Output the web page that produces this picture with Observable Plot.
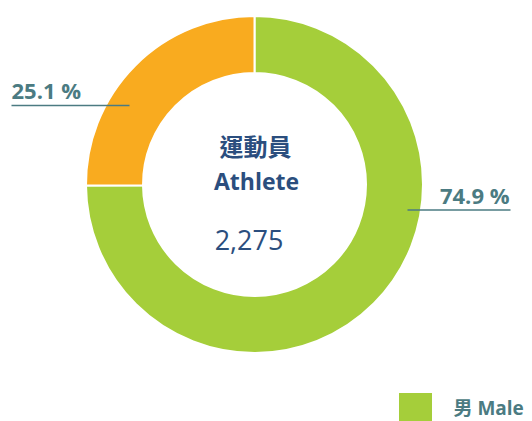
<!DOCTYPE html>
<html><head><meta charset="utf-8">
<script src="https://cdn.jsdelivr.net/npm/d3@7"></script>
<script src="https://cdn.jsdelivr.net/npm/@observablehq/plot@0.6"></script>
<style>
html,body{margin:0;padding:0;background:#fff;overflow:hidden;}
</style>
</head><body><div id="chart"></div>
<script>
// ---- data ----
const categories = ["男 Male", "女 Female"];
const percents = [74.9, 25.1];
const colors = ["#a5ce3a", "#f9ab1f"];
const centerTitle = ["運動員", "Athlete"];
const totalLabel = "2,275";

// ---- layout ----
const W = 532, H = 421;
const CX = 254.5, CY = 184.5, R_OUT = 168.5, R_IN = 111.5;
const FONT = "'Open Sans', 'Noto Sans CJK TC', 'Noto Sans', sans-serif";
const TEAL = "#4b7b82", BLUE = "#2b4e7e";

const rows = categories.map((c, i) => ({category: c, value: percents[i], color: colors[i]}));
const arcs = d3.pie().sort(null).value(d => d.value)(rows);
const arcGen = d3.arc().innerRadius(R_IN).outerRadius(R_OUT);

function donutMark(index, scales) {
  const g = d3.create("svg:g")
    .attr("transform", `translate(${scales.x(CX)},${scales.y(CY)})`);
  g.selectAll("path").data(arcs).join("path")
    .attr("d", arcGen)
    .attr("fill", d => d.data.color)
    .attr("stroke", "#fff")
    .attr("stroke-width", 2);
  return g.node();
}

const pctLabels = [
  {text: `${percents[1].toFixed(1)} %`, x: 11, y: 98, anchor: "start"},
  {text: `${percents[0].toFixed(1)} %`, x: 509, y: 203, anchor: "end"}
];
const leaders = [
  {x1: 11, x2: 129, y: 105},
  {x1: 407, x2: 510, y: 209.5}
];

const chart = Plot.plot({
  width: W, height: H, margin: 0,
  x: {domain: [0, W], range: [0, W], axis: null},
  y: {domain: [0, H], range: [0, H], axis: null},
  style: {fontFamily: FONT, background: "#fff"},
  marks: [
    donutMark,
    Plot.link(leaders, {x1: "x1", x2: "x2", y1: "y", y2: "y", stroke: TEAL, strokeWidth: 1.5}),
    Plot.text(pctLabels.filter(d => d.anchor === "start"), {x: "x", y: "y", text: "text", textAnchor: "start", lineAnchor: "bottom", fill: TEAL, fontSize: 22, fontWeight: 700}),
    Plot.text(pctLabels.filter(d => d.anchor === "end"), {x: "x", y: "y", text: "text", textAnchor: "end", lineAnchor: "bottom", fill: TEAL, fontSize: 22, fontWeight: 700}),
    Plot.text([centerTitle[0]], {x: 255, y: 155, text: d => d, lineAnchor: "bottom", fill: BLUE, fontSize: 24, fontWeight: 600}),
    Plot.text([centerTitle[1]], {x: 256, y: 189, text: d => d, lineAnchor: "bottom", fill: BLUE, fontSize: 23, fontWeight: 700}),
    Plot.text([totalLabel], {x: 248.5, y: 249, text: d => d, lineAnchor: "bottom", fill: BLUE, fontSize: 27, fontWeight: 500}),
    Plot.rect([categories[0]], {x1: 399, x2: 432, y1: 393, y2: 427, fill: colors[0]}),
    Plot.text([categories[0]], {x: 453, y: 414, text: d => d, textAnchor: "start", lineAnchor: "bottom", fill: TEAL, fontSize: 19, fontWeight: 700})
  ]
});
document.getElementById("chart").appendChild(chart);
</script>
</body></html>
